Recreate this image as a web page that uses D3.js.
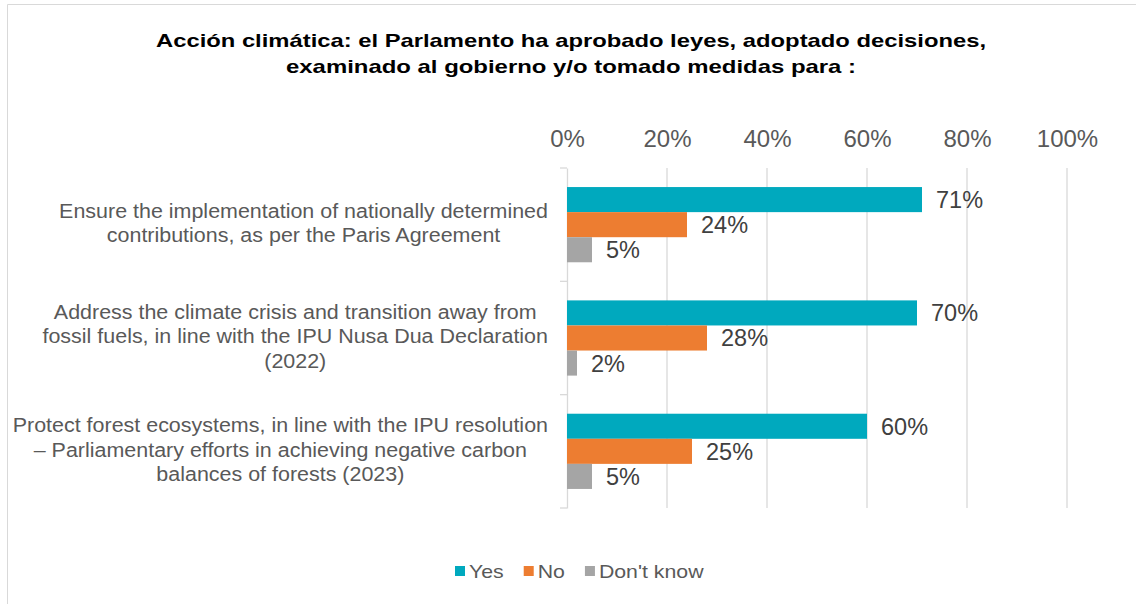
<!DOCTYPE html>
<html>
<head>
<meta charset="utf-8">
<script src="https://cdn.jsdelivr.net/npm/d3@7"></script>
<style>
  body { margin: 0; background: #fff; }
  text { font-family: "Liberation Sans", Arial, sans-serif; }
</style>
</head>
<body>
<svg width="1136" height="604"></svg>
<script>
//data
var categories = [
    ["Ensure the implementation of nationally determined", "contributions, as per the Paris Agreement"],
    ["Address the climate crisis and transition away from", "fossil fuels, in line with the IPU Nusa Dua Declaration", "(2022)"],
    ["Protect forest ecosystems, in line with the IPU resolution", "\u2013 Parliamentary efforts in achieving negative carbon", "balances of forests (2023)"]
];
var seriesNames = ["Yes", "No", "Don't know"];
var yesValues = [71, 70, 60];
var noValues = [24, 28, 25];
var dontKnowValues = [5, 2, 5];
var tickValues = [0, 20, 40, 60, 80, 100];
var colors = ["#00A9BE", "#ED7D31", "#A5A5A5"];
var titleLines = [
    "Acción climática: el Parlamento ha aprobado leyes, adoptado decisiones,",
    "examinado al gobierno y/o tomado medidas para :"
];

var series = [yesValues, noValues, dontKnowValues];

var svg = d3.select("svg");

//the picture is a bit wider than the font, stretch text sideways
function stretch(sel, k) {
    sel.each(function () {
        var w = this.getComputedTextLength();
        d3.select(this)
            .attr("textLength", w * k)
            .attr("lengthAdjust", "spacingAndGlyphs");
    });
}

//chart frame
svg.append("path")
    .attr("d", "M7.5,604 V4.5 H1136")
    .attr("fill", "none")
    .attr("stroke", "#d9d9d9")
    .attr("stroke-width", 1);

//title
svg.selectAll(".title")
    .data(titleLines)
    .enter()
    .append("text")
    .attr("class", "title")
    .attr("x", 571)
    .attr("y", function (d, i) { return 47 + i * 26; })
    .attr("text-anchor", "middle")
    .attr("font-size", 19)
    .attr("font-weight", "bold")
    .attr("fill", "#000")
    .attr("textLength", function (d, i) { return i == 0 ? 830 : 570; })
    .attr("lengthAdjust", "spacingAndGlyphs")
    .text(function (d) { return d; });

//scales
var x = d3.scaleLinear().domain([0, 100]).range([567, 1067]);
var y = d3.scaleBand().domain(d3.range(categories.length)).range([168, 508]);
var inner = d3.scaleBand().domain(d3.range(seriesNames.length)).range([0, y.bandwidth()]).paddingOuter(0.76);

//gridlines
svg.append("g")
    .selectAll("line")
    .data(tickValues.slice(1))
    .enter()
    .append("line")
    .attr("x1", function (d) { return x(d); })
    .attr("x2", function (d) { return x(d); })
    .attr("y1", 168)
    .attr("y2", 508)
    .attr("stroke", "#d9d9d9")
    .attr("stroke-width", 1.3);

//top axis labels
var xAxis = svg.append("g")
    .attr("transform", "translate(0,147)")
    .call(d3.axisTop(x).tickValues(tickValues).tickSize(0).tickPadding(0).tickFormat(function (d) { return d + "%"; }));
xAxis.select(".domain").remove();
xAxis.selectAll("text")
    .attr("font-size", 24)
    .attr("font-family", "Liberation Sans, Arial, sans-serif")
    .attr("fill", "#595959");

//vertical category axis
var yAxis = svg.append("g")
    .attr("transform", "translate(567,0)")
    .call(d3.axisLeft(y).tickValues([]).tickSizeOuter(0));
yAxis.select(".domain").attr("stroke", "#d9d9d9").attr("stroke-width", 1.3);
yAxis.selectAll(".cattick")
    .data([168, 168 + y.step(), 168 + 2 * y.step(), 508])
    .enter()
    .append("line")
    .attr("class", "cattick")
    .attr("x1", -7)
    .attr("x2", 0)
    .attr("y1", function (d) { return d; })
    .attr("y2", function (d) { return d; })
    .attr("stroke", "#d9d9d9")
    .attr("stroke-width", 1.3);

//bars
var groups = svg.selectAll(".group")
    .data(categories)
    .enter()
    .append("g")
    .attr("class", "group")
    .attr("transform", function (d, i) { return "translate(0," + y(i) + ")"; });

groups.each(function (cat, ci) {
    var g = d3.select(this);
    var vals = series.map(function (s) { return s[ci]; });

    g.selectAll("rect")
        .data(vals)
        .enter()
        .append("rect")
        .attr("x", x(0))
        .attr("y", function (d, si) { return inner(si); })
        .attr("width", function (d) { return x(d) - x(0); })
        .attr("height", inner.bandwidth())
        .attr("fill", function (d, si) { return colors[si]; });

    g.selectAll(".vlabel")
        .data(vals)
        .enter()
        .append("text")
        .attr("class", "vlabel")
        .attr("x", function (d) { return x(d) + 14; })
        .attr("y", function (d, si) { return inner(si) + inner.bandwidth() / 2; })
        .attr("dy", "0.36em")
        .attr("font-size", 23.5)
        .attr("fill", "#404040")
        .text(function (d) { return d + "%"; });

    //category label, lines centred in a right-aligned box
    var lab = g.append("text")
        .attr("font-size", 19.5)
        .attr("fill", "#595959")
        .attr("text-anchor", "middle");
    var lineH = 24.5;
    var tspans = lab.selectAll("tspan")
        .data(cat)
        .enter()
        .append("tspan")
        .attr("y", function (d, li) { return y.bandwidth() / 2 - 1.5 + (li - (cat.length - 1) / 2) * lineH; })
        .attr("dy", "0.35em")
        .text(function (d) { return d; });
    stretch(tspans, 1.1);
    var maxW = 0;
    tspans.each(function () { maxW = Math.max(maxW, +this.getAttribute("textLength")); });
    tspans.attr("x", 548 - maxW / 2);
});

//legend
var legend = svg.append("g").attr("transform", "translate(455,571)");
var lx = 0;
seriesNames.forEach(function (name, i) {
    legend.append("rect")
        .attr("x", lx)
        .attr("y", -5)
        .attr("width", 10)
        .attr("height", 10)
        .attr("fill", colors[i]);
    var t = legend.append("text")
        .attr("x", lx + 14)
        .attr("dy", "0.35em")
        .attr("font-size", 19)
        .attr("fill", "#595959")
        .text(name);
    stretch(t, 1.12);
    lx += 14 + (+t.attr("textLength")) + 20;
});
</script>
</body>
</html>
